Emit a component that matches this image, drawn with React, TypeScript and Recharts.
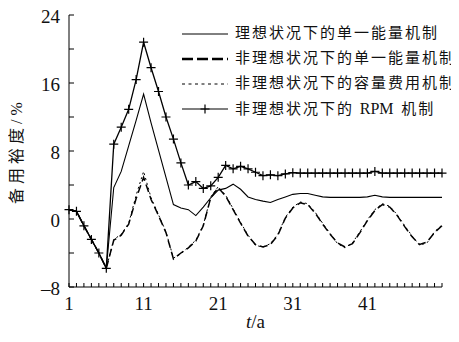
import React from 'react';
import { LineChart, Line, XAxis, YAxis, Legend } from 'recharts';

// 年份（横轴）
const years = [
  1, 2, 3, 4, 5, 6, 7, 8, 9, 10, 11, 12, 13, 14, 15, 16, 17, 18, 19, 20, 21, 22, 23, 24, 25, 26,
  27, 28, 29, 30, 31, 32, 33, 34, 35, 36, 37, 38, 39, 40, 41, 42, 43, 44, 45, 46, 47, 48, 49, 50, 51,
];

// 理想状况下的单一能量机制
const idealEnergy = [
  1.1, 0.9, -0.8, -2.4, -4.0, -5.8, 3.7, 5.6, 8.6, 11.6, 14.7, 11.3, 8.1, 4.9, 1.7, 1.3, 1.1, 0.4,
  1.4, 2.5, 3.4, 3.6, 4.1, 3.5, 2.6, 2.3, 2.1, 1.95, 2.3, 2.6, 2.9, 3.0, 3.0, 2.8, 2.6, 2.55, 2.55,
  2.55, 2.55, 2.55, 2.6, 2.8, 2.6, 2.55, 2.55, 2.55, 2.55, 2.55, 2.55, 2.55, 2.55,
];

// 非理想状况下的单一能量机制
const realEnergy = [
  1.1, 0.9, -0.8, -2.4, -4.0, -5.8, -2.5, -1.9, -0.6, 2.4, 4.9, 2.3, 0.4, -1.6, -4.7, -4.0, -3.4,
  -2.6, -0.8, 2.5, 3.7, 2.7, 1.1, -0.5, -2.0, -3.0, -3.3, -3.0, -1.9, 0.1, 1.3, 1.9, 1.7, 0.7, -0.6,
  -1.8, -2.8, -3.3, -2.9, -1.6, -0.2, 1.0, 1.7, 1.4, 0.4, -0.9, -2.1, -3.0, -2.7, -1.6, -0.8,
];

// 非理想状况下的容量费用机制
const realCapacity = [
  1.1, 0.9, -0.8, -2.4, -4.0, -5.8, -2.4, -1.8, -0.5, 2.8, 5.6, 2.5, 0.5, -1.5, -4.6, -4.1, -3.3,
  -2.5, -0.7, 2.6, 3.8, 2.8, 1.2, -0.4, -1.9, -3.1, -3.3, -2.9, -1.8, 0.2, 1.4, 2.0, 1.8, 0.8, -0.5,
  -1.7, -2.9, -3.4, -2.8, -1.5, -0.1, 1.1, 1.8, 1.5, 0.5, -0.8, -2.0, -3.1, -2.8, -1.5, -0.7,
];

// 非理想状况下的 RPM 机制
const realRpm = [
  1.1, 0.9, -0.8, -2.4, -4.0, -5.8, 8.8, 10.8, 12.9, 16.4, 20.8, 17.8, 15.0, 12.0, 9.4, 6.6, 4.0,
  4.4, 3.6, 3.9, 4.9, 6.3, 5.9, 6.2, 5.9, 5.5, 5.1, 5.2, 5.1, 5.3, 5.45, 5.4, 5.4, 5.4, 5.4, 5.4, 5.4,
  5.4, 5.4, 5.4, 5.4, 5.6, 5.4, 5.4, 5.4, 5.4, 5.4, 5.4, 5.4, 5.4, 5.4,
];

const xMinorTicks = years;
const xLabels = [1, 11, 21, 31, 41];
const yMinorTicks = [-8, -4, 0, 4, 8, 12, 16, 20, 24];
const yLabels = [-8, 0, 8, 16, 24];

const seriesNames = [
  '理想状况下的单一能量机制',
  '非理想状况下的单一能量机制',
  '非理想状况下的容量费用机制',
  '非理想状况下的 RPM 机制',
];

const data = years.map((year, i) => ({
  year,
  idealEnergy: idealEnergy[i],
  realEnergy: realEnergy[i],
  realCapacity: realCapacity[i],
  realRpm: realRpm[i],
}));

const SERIF = '"Liberation Serif", "Times New Roman", serif';
const CJK = '"Liberation Serif", "Noto Sans CJK SC", serif';

// 横轴刻度：向内的小刻度线，只在 1, 11, 21... 写数字
const XTick = (props: any) => {
  const { x, y, payload } = props;
  const v = payload.value;
  return (
    <g>
      <line x1={x} y1={y} x2={x} y2={y - 4} stroke="#000" strokeWidth={1} />
      {xLabels.includes(v) && (
        <text x={x} y={y + 23} textAnchor="middle" fontFamily={SERIF} fontSize={19} fill="#111">
          {v}
        </text>
      )}
    </g>
  );
};

const YTick = (props: any) => {
  const { x, y, payload } = props;
  const v = payload.value;
  return (
    <g>
      <line x1={x} y1={y} x2={x + 5} y2={y} stroke="#000" strokeWidth={1} />
      {yLabels.includes(v) && (
        <text x={x - 9} y={y + 8} textAnchor="end" fontFamily={SERIF} fontSize={19} fill="#111">
          {v < 0 ? `–${Math.abs(v)}` : v}
        </text>
      )}
    </g>
  );
};

const YTitle = (props: any) => {
  const vb = props.viewBox || { x: 8, y: 15, width: 61, height: 272 };
  const cx = vb.x + 8;
  const cy = vb.y + vb.height / 2;
  return (
    <text
      x={cx}
      y={cy}
      transform={`rotate(-90 ${cx} ${cy})`}
      textAnchor="middle"
      dominantBaseline="central"
      fontFamily={CJK}
      fontSize={16}
      letterSpacing={4}
      fill="#111"
    >
      备用裕度/%
    </text>
  );
};

const XTitle = (props: any) => {
  const vb = props.viewBox || { x: 69, y: 287, width: 373, height: 47 };
  return (
    <text x={vb.x + vb.width / 2} y={vb.y + 41} textAnchor="middle" fontFamily={SERIF} fontSize={19} fill="#111">
      <tspan fontStyle="italic">t</tspan>/a
    </text>
  );
};

// RPM 曲线上的“+”标记
const PlusDot = (props: any) => {
  const { cx, cy, index } = props;
  if (cx == null || cy == null) return <g key={`p-${index}`} />;
  return (
    <path
      key={`p-${index}`}
      d={`M${cx - 4.5},${cy}H${cx + 4.5}M${cx},${cy - 4.5}V${cy + 4.5}`}
      stroke="#000"
      strokeWidth={1.2}
      fill="none"
    />
  );
};

const LegendIcon = ({ kind }: { kind: number }) => (
  <svg width={46} height={14} style={{ display: 'block' }}>
    {kind === 0 && <line x1={0} y1={7} x2={46} y2={7} stroke="#000" strokeWidth={1} />}
    {kind === 1 && <line x1={0} y1={7} x2={46} y2={7} stroke="#000" strokeWidth={2.5} strokeDasharray="11 4" />}
    {kind === 2 && <line x1={0} y1={7} x2={46} y2={7} stroke="#000" strokeWidth={1} strokeDasharray="3 3.5" />}
    {kind === 3 && (
      <g>
        <line x1={0} y1={7} x2={46} y2={7} stroke="#000" strokeWidth={1.2} />
        <path d="M18.5,7H27.5M23,2.5V11.5" stroke="#000" strokeWidth={1.2} />
      </g>
    )}
  </svg>
);

// 图例文字：中文字距稍宽，拉丁字母不加字距
const legendText = (name: string) =>
  name.split(/(RPM)/).map((part, j) =>
    part === 'RPM' ? (
      <span key={j} style={{ letterSpacing: 0, fontSize: 16, marginRight: 2 }}>
        {part}
      </span>
    ) : (
      <span key={j}>{part}</span>
    )
  );

const renderLegend = () => (
  <div>
    {seriesNames.map((name, i) => (
      <div key={name} style={{ display: 'flex', alignItems: 'center', height: 25 }}>
        <LegendIcon kind={i} />
        <span
          style={{
            marginLeft: 7,
            fontFamily: CJK,
            fontSize: 15,
            letterSpacing: 2,
            color: '#111',
            whiteSpace: 'nowrap',
            lineHeight: '25px',
          }}
        >
          {legendText(name)}
        </span>
      </div>
    ))}
  </div>
);

export default function App() {
  return (
    <div style={{ marginTop: -8, marginLeft: -8, width: 451, height: 334 }}>
      <LineChart width={451} height={334} data={data} margin={{ top: 15, right: 9, bottom: 0, left: 8 }}>
        <XAxis
          dataKey="year"
          type="number"
          domain={[1, 51]}
          ticks={xMinorTicks}
          interval={0}
          tick={<XTick />}
          tickLine={false}
          tickSize={0}
          tickMargin={0}
          height={47}
          axisLine={{ stroke: '#000', strokeWidth: 1 }}
          label={<XTitle />}
        />
        <YAxis
          type="number"
          domain={[-8, 24]}
          ticks={yMinorTicks}
          interval={0}
          tick={<YTick />}
          tickLine={false}
          tickSize={0}
          tickMargin={0}
          width={61}
          axisLine={{ stroke: '#000', strokeWidth: 1 }}
          label={<YTitle />}
        />
        <Legend
          layout="vertical"
          align="center"
          verticalAlign="middle"
          content={renderLegend}
          wrapperStyle={{ left: 182, top: 21, width: 276, height: 100 }}
        />
        <Line
          dataKey="idealEnergy"
          name={seriesNames[0]}
          stroke="#000"
          strokeWidth={1.1}
          dot={false}
          isAnimationActive={false}
        />
        <Line
          dataKey="realEnergy"
          name={seriesNames[1]}
          stroke="#000"
          strokeWidth={1.5}
          strokeDasharray="8 4"
          dot={false}
          isAnimationActive={false}
        />
        <Line
          dataKey="realCapacity"
          name={seriesNames[2]}
          stroke="#000"
          strokeWidth={1}
          strokeDasharray="2 3"
          dot={false}
          isAnimationActive={false}
        />
        <Line
          dataKey="realRpm"
          name={seriesNames[3]}
          stroke="#000"
          strokeWidth={1.3}
          dot={<PlusDot />}
          isAnimationActive={false}
        />
      </LineChart>
    </div>
  );
}
